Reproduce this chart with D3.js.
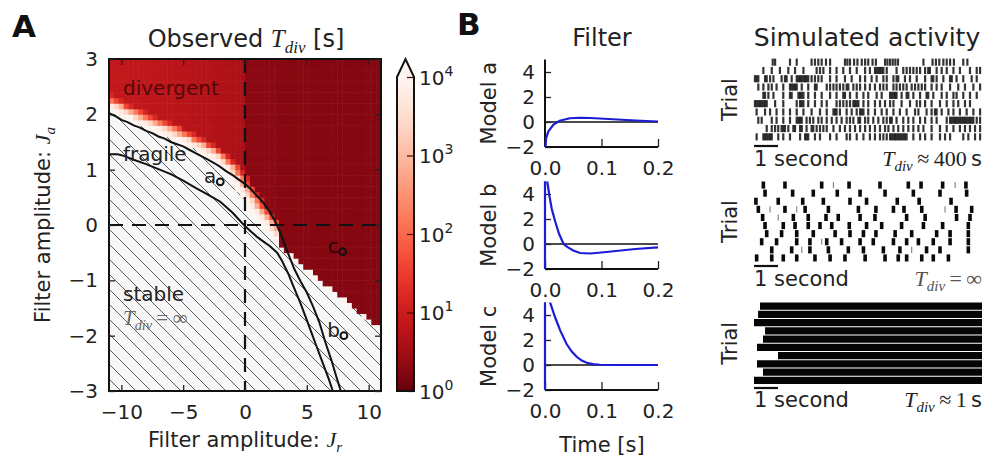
<!DOCTYPE html>
<html><head><meta charset="utf-8">
<script src="https://cdn.jsdelivr.net/npm/d3@7"></script>
<style>
body{margin:0;background:#fff;}
svg{display:block;}
text{font-family:"DejaVu Sans",sans-serif;fill:#222;}
</style>
</head><body>
<svg id="fig" width="998" height="459"></svg>
<script>
// ---------------- DATA ----------------
const jrTicks = [-10, -5, 0, 5, 10];
const jaTicks = [-3, -2, -1, 0, 1, 2, 3];
const tdivTicks = [1, 10, 100, 1000, 10000];

// lower edge of the region where divergence was observed (Jr, Ja)
const edgeJr = [-11, -9, -7, -5, -3, -2, -1.2, -0.5, 0.15, 1.2, 2.3, 3.9, 6.1, 8.5, 11];
const edgeJa = [2.07, 1.85, 1.65, 1.46, 1.22, 1.08, 0.85, 0.6, 0.33, 0.05, -0.26, -0.63, -1.04, -1.47, -1.91];
// observed T_div close to the edge (by distance bins), curved part and straight part
const fadeCurve = [10000, 9000, 6000, 2500, 700, 150, 40, 15];
const fadeLine = [9000];
const fadeSwitchJr = 2.6;
// observed T_div far from the edge
const baseJr = [-11, -5, -0.2, 0.2, 5, 11];
const baseTdiv = [8, 6, 4, 2, 1.8, 1.7];

// contour lines
const upperJr = [-11, -10.5, -10, -9.5, -9, -8.5, -8, -7.5, -7, -6.5, -6, -5.5, -5, -4.5, -4, -3.5, -3, -2.5, -2, -1.5, -1, -0.5, 0, 0.5, 1, 1.5, 2, 2.5, 3, 3.5, 4, 4.5, 5, 5.5, 6, 6.5, 7, 7.4, 7.75];
const upperJa = [2.02, 1.97, 1.9, 1.86, 1.8, 1.76, 1.7, 1.66, 1.6, 1.56, 1.5, 1.46, 1.42, 1.36, 1.3, 1.24, 1.18, 1.12, 1.05, 0.97, 0.9, 0.82, 0.74, 0.64, 0.52, 0.4, 0.24, 0.04, -0.22, -0.52, -0.8, -1.02, -1.22, -1.47, -1.75, -2.12, -2.45, -2.75, -3.0];
const lowerJr = [-11, -10.3, -9.8, -9, -8, -7, -6, -5, -4, -3, -2, -1.5, -1, -0.5, 0, 0.5, 1, 1.5, 2, 2.6, 3, 3.5, 3.9, 4.5, 5, 5.3, 5.8, 6.3, 6.8, 7.1];
const lowerJa = [1.28, 1.28, 1.25, 1.18, 1.1, 1.01, 0.92, 0.8, 0.67, 0.55, 0.42, 0.32, 0.22, 0.1, -0.02, -0.12, -0.22, -0.3, -0.38, -0.5, -0.65, -0.88, -1.1, -1.42, -1.72, -1.9, -2.2, -2.5, -2.8, -3.0];

// example models
const modelNames = ["a", "b", "c"];
const modelJr = [-2.0, 8.0, 7.9];
const modelJa = [0.78, -2.0, -0.48];

// filters (time in s, amplitude)
const filterTimeA = [0, 0.002, 0.006, 0.015, 0.026, 0.044, 0.062, 0.08, 0.097, 0.12, 0.144, 0.17, 0.2];
const filterValA  = [-2.6, -1.3, -0.75, -0.2, 0.1, 0.3, 0.34, 0.32, 0.28, 0.22, 0.16, 0.1, 0.04];
const filterTimeB = [0, 0, 0.004, 0.008, 0.012, 0.018, 0.025, 0.033, 0.04, 0.05, 0.062, 0.08, 0.1, 0.13, 0.16, 0.2];
const filterValB  = [-2.6, 6, 5.0, 3.8, 2.8, 1.8, 0.8, 0.0, -0.25, -0.52, -0.72, -0.76, -0.68, -0.54, -0.4, -0.27];
const filterTimeC = [0, 0, 0.009, 0.018, 0.027, 0.038, 0.047, 0.056, 0.065, 0.074, 0.085, 0.097, 0.12, 0.2];
const filterValC  = [-2.6, 6, 5.0, 3.8, 2.75, 1.7, 1.1, 0.66, 0.35, 0.18, 0.07, 0.02, 0, 0];
const filterYTicks = [-2, 0, 2, 4];
const filterXTicks = [0, 0.1, 0.2];

// simulated spike trains (s)
const raster1 = [
 [0.78,0.88,1.5,1.78,2.4,2.54,2.68,2.82,3.0,3.17,3.79,3.89,4.0,4.17,4.31,4.49,4.63,4.76,4.94,5.08,5.46,5.56,5.67,5.78,5.89,6.0,7.06,7.44,7.58,7.72,7.89,8.03,8.17,8.33,8.72,8.89],
 [0.39,0.74,1.08,1.43,1.71,2.06,2.61,2.75,2.89,3.17,3.44,3.72,4.0,4.28,4.63,4.83,5.04,5.11,5.18,5.25,5.32,5.39,5.53,5.94,6.22,6.36,6.5,6.64,6.78,6.92,7.13,7.26,7.33,7.61,7.82,8.03,8.31,8.58,9.0,9.28,9.42],
 [0.04,0.11,0.18,0.46,0.53,0.67,0.81,1.15,1.29,1.36,1.57,1.78,1.85,1.92,1.99,2.06,2.13,2.19,2.26,2.4,2.54,2.68,2.82,3.17,3.44,3.79,4.07,4.42,4.63,4.9,5.11,5.39,5.53,5.81,5.94,6.01,6.29,6.5,6.78,7.13,7.4,7.47,7.61,7.89,8.17,8.24,8.44,8.72,9.07,9.28],
 [0.18,0.39,0.6,0.74,0.94,1.22,1.5,1.57,1.64,1.71,1.78,1.99,2.26,2.54,2.61,3.03,3.17,3.31,3.44,3.58,3.72,3.86,3.93,4.14,4.28,4.42,4.63,4.83,5.04,5.25,5.39,5.53,5.81,5.94,6.08,6.22,6.36,6.57,6.71,6.85,6.99,7.13,7.4,7.61,7.82,8.17,8.51,8.79,9.14,9.42],
 [0.39,0.46,0.6,0.81,1.22,1.5,1.57,1.85,1.92,1.99,2.06,2.26,2.54,2.82,3.17,3.44,3.72,3.79,4.0,4.28,4.56,4.76,5.11,5.32,5.67,5.74,5.81,5.88,5.94,6.15,6.36,6.43,6.64,6.92,7.19,7.26,7.47,7.82,8.03,8.31,8.44,8.72,9.0,9.28],
 [0.04,0.11,0.18,0.25,0.32,0.39,0.46,0.53,0.88,1.22,1.78,1.92,1.99,2.06,2.26,2.54,2.82,3.03,3.44,3.58,3.72,3.86,4.0,4.14,4.21,4.28,4.35,4.56,4.76,5.04,5.25,5.46,5.67,5.81,6.15,6.5,6.78,6.92,7.13,7.4,7.75,8.03,8.31,8.51,8.79,9.0],
 [0.11,0.46,0.67,0.94,1.22,1.5,1.78,2.06,2.4,2.75,3.03,3.31,3.38,3.44,3.58,3.86,4.07,4.28,4.42,4.49,4.56,4.76,5.04,5.32,5.53,5.81,6.08,6.36,6.71,6.85,7.19,7.4,7.54,7.61,7.82,8.1,8.31,8.58,8.86,9.14,9.42],
 [0.18,0.32,0.74,0.94,1.22,1.5,1.78,1.85,1.92,1.99,2.19,2.33,2.47,2.68,2.82,3.03,3.24,3.44,3.65,3.86,4.0,4.14,4.35,4.42,4.63,4.76,4.97,5.18,5.39,5.53,5.67,5.74,5.94,6.22,6.43,6.64,6.92,7.13,7.4,7.61,8.03,8.17,8.24,8.31,8.38,8.44,8.51,8.58,8.65,8.72,8.79,8.86,8.93,9.0,9.07,9.14,9.28,9.42],
 [0.53,0.74,0.88,1.01,1.15,1.22,1.29,1.43,1.64,1.71,1.92,1.99,2.19,2.4,2.47,2.61,2.75,2.89,3.03,3.31,3.58,3.79,4.0,4.21,4.42,4.63,4.83,5.04,5.25,5.46,5.6,5.81,6.01,6.22,6.43,6.64,6.85,7.06,7.4,7.75,8.03,8.31,8.58,8.79,9.0,9.21,9.42],
 [0.11,0.39,0.46,0.53,0.6,0.67,0.74,1.01,1.22,1.5,1.92,2.13,2.19,2.26,2.54,2.75,3.17,3.44,3.86,4.0,4.28,4.56,4.83,5.04,5.25,5.39,5.53,5.67,5.74,5.81,5.88,5.94,6.01,6.08,6.15,6.22,6.29,6.36,6.64,6.92,7.13,7.4,7.75,7.96,8.17,8.72,8.93,9.21,9.42]
];
const raster2 = [
 [0.39,1.29,2.82,3.96,5.25,6.43,6.96,7.86,8.83],
 [0.46,1.61,2.47,3.47,4.42,5.46,6.64,7.75,8.86],
 [0.08,1.01,2.03,2.89,4.0,4.69,5.97,6.88,8.21],
 [0.18,1.29,2.13,3.1,4.35,5.08,5.81,6.25,6.99,8.42,9.07],
 [0.36,1.64,2.26,3.0,3.51,4.42,5.04,6.36,7.13,8.44,9.0],
 [0.46,1.22,1.71,2.26,2.75,3.24,3.97,4.69,5.32,6.15,7.06,7.86,8.93],
 [0.53,1.15,1.78,2.47,3.38,4.0,4.56,5.08,5.88,6.57,7.61,8.17,8.93],
 [0.32,0.94,1.78,2.33,3.03,3.65,4.42,4.97,5.81,6.36,6.85,7.47,8.17,8.93],
 [0.74,1.57,2.33,3.1,3.93,4.56,5.39,6.08,7.19,7.75,8.93],
 [0.11,0.74,1.22,1.78,2.54,3.17,3.79,4.63,5.46,6.01,6.36,6.99,7.47,8.1]
];
const raster2Thin = [[3.31,8.38],[],[],[0.67,1.78,7.96],[1.01],[],[],[2.82],[1.99,6.57],[]];
const raster3Start = [0.25, 0.17, 0, 0.46, 0.375, 0.125, 1.0, 0.125, 0.375, 0];
const rasterDuration = 9.5;

// ---------------- DRAWING ----------------
const svg = d3.select("#fig");
const defs = svg.append("defs");
const SERIF = "'Liberation Serif','DejaVu Serif',serif";
const intFmt = d3.format("d");

function addTdiv(text, size) {
  text.append("tspan").attr("font-family", SERIF).attr("font-style", "italic").attr("font-size", size).text("T");
  text.append("tspan").attr("font-family", SERIF).attr("font-style", "italic").attr("font-size", size * 0.68).attr("dy", size * 0.24).text("div");
}
function addSym(text, size, sym, sub) {
  text.append("tspan").attr("font-family", SERIF).attr("font-style", "italic").attr("font-size", size).text(sym);
  text.append("tspan").attr("font-family", SERIF).attr("font-style", "italic").attr("font-size", size * 0.68).attr("dy", size * 0.24).text(sub);
}

// hatch
const pat = defs.append("pattern").attr("id", "hatch").attr("patternUnits", "userSpaceOnUse").attr("width", 15).attr("height", 15);
pat.append("rect").attr("width", 15).attr("height", 15).attr("fill", "#f7f7f7");
pat.append("path").attr("d", "M0,0L15,15M-4,11L4,19M11,-4L19,4").attr("stroke", "#5c5c5c").attr("stroke-width", 1);

// ---- Panel A ----
const xA = d3.scaleLinear().domain([-11, 11]).range([109, 381]);
const yA = d3.scaleLinear().domain([-3, 3]).range([391, 59]);
const color = d3.scaleSequentialLog(t => d3.interpolateReds(1 - t)).domain([1, 1e4]).clamp(true);

defs.append("clipPath").attr("id", "clipA").append("rect")
  .attr("x", xA(-11)).attr("y", yA(3)).attr("width", xA(11) - xA(-11)).attr("height", yA(-3) - yA(3));

const gA = svg.append("g");
const plotA = gA.append("g").attr("clip-path", "url(#clipA)");
plotA.append("rect").attr("x", xA(-11)).attr("y", yA(3)).attr("width", xA(11) - xA(-11)).attr("height", yA(-3) - yA(3)).attr("fill", "url(#hatch)");

const edge = d3.scaleLinear().domain(edgeJr).range(edgeJa);
const edgeInv = d3.scaleLinear().domain(edgeJa).range(edgeJr);
const baseLog = d3.scaleLinear().domain(baseJr).range(baseTdiv.map(Math.log10));
const nCol = 56, nRow = 60;
const dJr = 22 / nCol, dJa = 6 / nRow;
const pxJr = xA(1) - xA(0), pxJa = yA(0) - yA(1);
const fadeStepPx = 1.9;
const cells = [];
for (let i = 0; i < nCol; i++) {
  for (let j = 0; j < nRow; j++) {
    const jr0 = -11 + i * dJr, ja0 = -3 + j * dJa;
    const jc = jr0 + dJr / 2, ac = ja0 + dJa / 2;
    const eb = edge(jc);
    if (ac <= eb) continue;
    const dv = (ac - eb) * pxJa;
    const dh = (jc - edgeInv(ac)) * pxJr;
    const d = dh > 0 ? dv * dh / Math.hypot(dv, dh) : dv;
    const fade = jc < fadeSwitchJr ? fadeCurve : fadeLine;
    const k = Math.floor(d / fadeStepPx);
    let T = Math.pow(10, baseLog(jc));
    if (k < fade.length) T = Math.max(T, fade[k]);
    cells.push({jr0, ja0, T});
  }
}
plotA.selectAll("rect.cell").data(cells).join("rect").attr("class", "cell")
  .attr("x", d => xA(d.jr0)).attr("y", d => yA(d.ja0 + dJa))
  .attr("width", xA(dJr) - xA(0) + 0.5).attr("height", yA(0) - yA(dJa) + 0.5)
  .attr("fill", d => color(d.T));

// dashed axes lines
plotA.append("line").attr("x1", xA(0)).attr("x2", xA(0)).attr("y1", yA(3)).attr("y2", yA(-3))
  .attr("stroke", "#111").attr("stroke-width", 2.2).attr("stroke-dasharray", "14,9");
plotA.append("line").attr("x1", xA(-11)).attr("x2", xA(11)).attr("y1", yA(0)).attr("y2", yA(0))
  .attr("stroke", "#111").attr("stroke-width", 2.2).attr("stroke-dasharray", "14,9");

// contours
const lineA = d3.line().x(d => xA(d[0])).y(d => yA(d[1]));
plotA.append("path").attr("d", lineA(d3.zip(upperJr, upperJa))).attr("fill", "none").attr("stroke", "#111").attr("stroke-width", 2);
plotA.append("path").attr("d", lineA(d3.zip(lowerJr, lowerJa))).attr("fill", "none").attr("stroke", "#111").attr("stroke-width", 2);

// region labels
gA.append("text").attr("x", 123).attr("y", 95).attr("font-size", 20).style("fill", "#3a0505").attr("opacity", 0.8).text("divergent");
gA.append("text").attr("x", 123).attr("y", 161).attr("font-size", 20).style("fill", "#222").text("fragile");
gA.append("text").attr("x", 123).attr("y", 301).attr("font-size", 20).style("fill", "#222").text("stable");
const tinf = gA.append("text").attr("x", 123).attr("y", 325).attr("font-size", 21).style("fill", "#666");
addTdiv(tinf, 21);
tinf.append("tspan").attr("font-family", SERIF).attr("dy", -21 * 0.24).text("\u2009=\u2009\u221e");

// models
modelNames.forEach((n, i) => {
  gA.append("circle").attr("cx", xA(modelJr[i])).attr("cy", yA(modelJa[i])).attr("r", 3.4)
    .attr("fill", "none").attr("stroke", "#111").attr("stroke-width", 2);
  gA.append("text").attr("x", xA(modelJr[i]) - 4).attr("y", yA(modelJa[i]) + 1)
    .attr("text-anchor", "end").attr("font-size", 20).style("fill", i === 2 ? "#2a0000" : "#222").text(n);
});

// frame
gA.append("rect").attr("x", xA(-11)).attr("y", yA(3)).attr("width", xA(11) - xA(-11)).attr("height", yA(-3) - yA(3))
  .attr("fill", "none").attr("stroke", "#111").attr("stroke-width", 2);

function styleAxis(g, size) {
  g.select(".domain").remove();
  g.selectAll(".tick line").attr("stroke", "#222").attr("stroke-width", 1.3);
  g.selectAll(".tick text").attr("font-size", size).attr("font-family", "DejaVu Sans").style("fill", "#222");
  g.attr("font-family", null).attr("font-size", null);
}
gA.append("g").attr("transform", `translate(0,${yA(-3)})`)
  .call(d3.axisBottom(xA).tickValues(jrTicks).tickFormat(intFmt).tickSize(-6).tickPadding(14)).call(g => styleAxis(g, 20));
gA.append("g").attr("transform", `translate(0,${yA(3)})`)
  .call(d3.axisTop(xA).tickValues(jrTicks).tickSize(-6).tickFormat("")).call(g => styleAxis(g, 20));
gA.append("g").attr("transform", `translate(${xA(-11)},0)`)
  .call(d3.axisLeft(yA).tickValues(jaTicks).tickFormat(intFmt).tickSize(-6).tickPadding(11)).call(g => styleAxis(g, 20));
gA.append("g").attr("transform", `translate(${xA(11)},0)`)
  .call(d3.axisRight(yA).tickValues(jaTicks).tickSize(-6).tickFormat("")).call(g => styleAxis(g, 20));

// titles & labels
const tA = svg.append("text").attr("x", 246).attr("y", 47).attr("text-anchor", "middle").attr("font-size", 24);
tA.append("tspan").text("Observed ");
addTdiv(tA, 25);
tA.append("tspan").attr("dy", -25 * 0.24).text(" [s]");

const xl = svg.append("text").attr("x", 245).attr("y", 447).attr("text-anchor", "middle").attr("font-size", 21);
xl.append("tspan").text("Filter amplitude: ");
addSym(xl, 22, "J", "r");
const yl = svg.append("text").attr("transform", "translate(50,225) rotate(-90)").attr("text-anchor", "middle").attr("font-size", 21);
yl.append("tspan").text("Filter amplitude: ");
addSym(yl, 22, "J", "a");

svg.append("text").attr("x", 12).attr("y", 37).attr("font-size", 31).attr("font-weight", "bold").style("fill", "#111").text("A");
svg.append("text").attr("x", 457).attr("y", 35).attr("font-size", 31).attr("font-weight", "bold").style("fill", "#111").text("B");

// colorbar
const cbX0 = 397, cbX1 = 414;
const yCb = d3.scaleLog().domain([1, 1e4]).range([391, 77]);
const grad = defs.append("linearGradient").attr("id", "cbgrad").attr("x1", 0).attr("y1", 0).attr("x2", 0).attr("y2", 1);
d3.range(0, 1.0001, 0.05).forEach(o => grad.append("stop").attr("offset", o).attr("stop-color", color(Math.pow(10, 4 * (1 - o)))));
svg.append("rect").attr("x", cbX0).attr("y", yCb(1e4)).attr("width", cbX1 - cbX0).attr("height", yCb(1) - yCb(1e4)).attr("fill", "url(#cbgrad)");
svg.append("path").attr("d", `M${cbX0},${yCb(1e4)}L${(cbX0 + cbX1) / 2},59L${cbX1},${yCb(1e4)}Z`).attr("fill", color(1e4));
const gCb = svg.append("g").attr("transform", `translate(${cbX1},0)`)
  .call(d3.axisRight(yCb).tickValues(tdivTicks).tickSize(-7).tickPadding(5).tickFormat(""));
styleAxis(gCb, 20);
gCb.selectAll(".tick line").attr("stroke", "#4a0808").attr("stroke-width", 1.2);
gCb.selectAll(".tick text").each(function(d) {
  const t = d3.select(this).attr("dy", "0.36em");
  t.append("tspan").text("10");
  t.append("tspan").attr("font-size", 14).attr("dy", -9).text(Math.round(Math.log10(d)));
});
svg.append("path").attr("d", `M${cbX0},${yCb(1)}L${cbX0},${yCb(1e4)}L${(cbX0 + cbX1) / 2},59L${cbX1},${yCb(1e4)}L${cbX1},${yCb(1)}Z`)
  .attr("fill", "none").attr("stroke", "#111").attr("stroke-width", 2);

// ---- Panel B: filters ----
const xF = d3.scaleLinear().domain([0, 0.2]).range([545, 658]);
const filterData = [[filterTimeA, filterValA], [filterTimeB, filterValB], [filterTimeC, filterValC]];
const filterBottoms = [147, 269, 390];
const filterUnit = 12.5;
svg.append("text").attr("x", 602).attr("y", 46).attr("text-anchor", "middle").attr("font-size", 24).text("Filter");
filterData.forEach((fd, i) => {
  const yF = d3.scaleLinear().domain([-2, 5]).range([filterBottoms[i], filterBottoms[i] - 7 * filterUnit]);
  const g = svg.append("g");
  const cid = "clipF" + i;
  defs.append("clipPath").attr("id", cid).append("rect").attr("x", xF(0) - 2).attr("y", yF(5)).attr("width", xF(0.2) - xF(0) + 6).attr("height", yF(-2) - yF(5));
  g.append("line").attr("x1", xF(0)).attr("x2", xF(0.2)).attr("y1", yF(0)).attr("y2", yF(0)).attr("stroke", "#111").attr("stroke-width", 1.6);
  g.append("g").attr("transform", `translate(${xF(0)},0)`)
    .call(d3.axisLeft(yF).tickValues(filterYTicks).tickFormat(intFmt).tickSize(-6).tickPadding(10)).call(a => styleAxis(a, 20));
  g.append("g").attr("transform", `translate(0,${yF(-2)})`)
    .call(d3.axisBottom(xF).tickValues(filterXTicks).tickSize(-8).tickPadding(14).tickFormat(d3.format(".1f"))).call(a => styleAxis(a, 20));
  g.append("line").attr("x1", xF(0)).attr("x2", xF(0)).attr("y1", yF(-2)).attr("y2", yF(5)).attr("stroke", "#111").attr("stroke-width", 2);
  g.append("line").attr("x1", xF(0)).attr("x2", xF(0.2)).attr("y1", yF(-2)).attr("y2", yF(-2)).attr("stroke", "#111").attr("stroke-width", 2);
  const ln = d3.line().x(d => xF(d[0])).y(d => yF(d[1]));
  g.append("path").attr("clip-path", `url(#${cid})`).attr("d", ln(d3.zip(fd[0], fd[1])))
    .attr("fill", "none").attr("stroke", "#1c1cd6").attr("stroke-width", 2.2);
  g.append("text").attr("transform", `translate(496,${(yF(-2) + yF(5)) / 2}) rotate(-90)`).attr("text-anchor", "middle")
    .attr("font-size", 21).text("Model " + modelNames[i]);
});
svg.append("text").attr("x", 602).attr("y", 452).attr("text-anchor", "middle").attr("font-size", 21).text("Time [s]");

// ---- Simulated activity ----
const xR = d3.scaleLinear().domain([0, rasterDuration]).range([754, 982]);
svg.append("text").attr("x", 867).attr("y", 46).attr("text-anchor", "middle").attr("font-size", 25).text("Simulated activity");
const rasterTops = [58, 181, 302], rasterBots = [141, 262, 384.5];
const barY = [146, 266, 388], labelY = [166, 286, 407];
const rowsOf = k => d3.scaleBand().domain(d3.range(10)).range([rasterTops[k], rasterBots[k]]);

// raster 1
{
  const yb = rowsOf(0), bw = yb.bandwidth();
  raster1.forEach((row, r) => {
    svg.append("g").selectAll("line").data(row).join("line")
      .attr("x1", d => xR(d)).attr("x2", d => xR(d)).attr("y1", yb(r) + 0.6).attr("y2", yb(r) + bw - 0.6)
      .attr("stroke", "#111").attr("stroke-width", 2.2).attr("opacity", 0.85);
  });
}
// raster 2
{
  const yb = rowsOf(1), bw = yb.bandwidth();
  raster2.forEach((row, r) => {
    svg.append("g").selectAll("rect").data(row).join("rect")
      .attr("x", d => xR(d) - 1.8).attr("width", 3.6).attr("y", yb(r) + 0.5).attr("height", bw - 1).attr("fill", "#0a0a0a");
  });
  raster2Thin.forEach((row, r) => {
    svg.append("g").selectAll("line").data(row).join("line")
      .attr("x1", d => xR(d)).attr("x2", d => xR(d)).attr("y1", yb(r) + 1).attr("y2", yb(r) + bw - 1)
      .attr("stroke", "#888").attr("stroke-width", 1.2);
  });
}
// raster 3
{
  const yb = rowsOf(2), bw = yb.bandwidth();
  svg.append("g").selectAll("rect").data(raster3Start).join("rect")
    .attr("x", d => xR(d)).attr("width", d => xR(rasterDuration) - xR(d))
    .attr("y", (d, r) => yb(r) + 0.5).attr("height", bw - 1).attr("fill", "#050505");
}
const tdivLabels = [["\u2009\u2248\u2009400\u2009", "s"], ["\u2009=\u2009\u221e", ""], ["\u2009\u2248\u20091\u2009", "s"]];
[0, 1, 2].forEach(k => {
  svg.append("text").attr("transform", `translate(737,${(rasterTops[k] + rasterBots[k]) / 2}) rotate(-90)`)
    .attr("text-anchor", "middle").attr("font-size", 21).text("Trial");
  svg.append("line").attr("x1", xR(0)).attr("x2", xR(1)).attr("y1", barY[k]).attr("y2", barY[k]).attr("stroke", "#111").attr("stroke-width", 2.2);
  svg.append("text").attr("x", xR(0)).attr("y", labelY[k]).attr("font-size", 21).text("1 second");
  const t = svg.append("text").attr("x", 982).attr("y", labelY[k]).attr("text-anchor", "end").attr("font-size", 22)
    .style("fill", k === 1 ? "#555" : "#222");
  addTdiv(t, 22);
  t.append("tspan").attr("font-family", SERIF).attr("dy", -22 * 0.24).text(tdivLabels[k][0]);
  if (tdivLabels[k][1]) t.append("tspan").attr("font-size", 21).text(tdivLabels[k][1]);
});
</script>
</body></html>
